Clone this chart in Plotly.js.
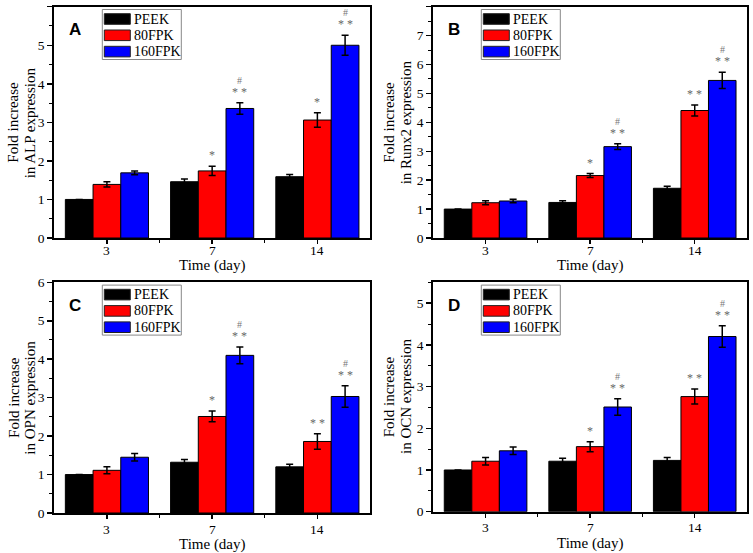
<!DOCTYPE html>
<html><head><meta charset="utf-8">
<script src="https://cdn.plot.ly/plotly-3.0.1.min.js"></script>
<style>html,body{margin:0;padding:0;background:#fff;}#chart{width:753px;height:553px;}</style>
</head><body><div id="chart"></div>
<script>
// ---- data ----
const categories = ['3', '7', '14'];
const seriesNames = ['PEEK', '80FPK', '160FPK'];
const seriesColors = ['#000000', '#ff0000', '#0000ff'];
const xTitle = 'Time (day)';

// A: ALP
const alpPEEK = [1.00, 1.46, 1.59];   const alpPEEKErr = [0, 0.07, 0.06];
const alp80 = [1.39, 1.74, 3.06];     const alp80Err = [0.07, 0.12, 0.19];
const alp160 = [1.69, 3.36, 5.00];    const alp160Err = [0.05, 0.15, 0.26];
const alpStars80 = ['', '*', '*'];    const alpStars160 = ['', '* *', '* *'];
const alpHash160 = ['', '#', '#'];

// B: Runx2
const runxPEEK = [1.00, 1.23, 1.72];  const runxPEEKErr = [0, 0.06, 0.07];
const runx80 = [1.22, 2.16, 4.41];    const runx80Err = [0.07, 0.07, 0.19];
const runx160 = [1.28, 3.16, 5.45];   const runx160Err = [0.06, 0.10, 0.28];
const runxStars80 = ['', '*', '* *']; const runxStars160 = ['', '* *', '* *'];
const runxHash160 = ['', '#', '#'];

// C: OPN
const opnPEEK = [1.00, 1.32, 1.20];   const opnPEEKErr = [0, 0.07, 0.07];
const opn80 = [1.11, 2.51, 1.86];     const opn80Err = [0.09, 0.14, 0.20];
const opn160 = [1.45, 4.10, 3.03];    const opn160Err = [0.10, 0.22, 0.28];
const opnStars80 = ['', '*', '* *'];  const opnStars160 = ['', '* *', '* *'];
const opnHash160 = ['', '#', '#'];

// D: OCN
const ocnPEEK = [1.00, 1.21, 1.23];   const ocnPEEKErr = [0, 0.07, 0.07];
const ocn80 = [1.21, 1.56, 2.76];     const ocn80Err = [0.09, 0.12, 0.18];
const ocn160 = [1.46, 2.51, 4.20];    const ocn160Err = [0.09, 0.20, 0.26];
const ocnStars80 = ['', '*', '* *'];  const ocnStars160 = ['', '* *', '* *'];
const ocnHash160 = ['', '#', '#'];

const panels = [
  {label:'A', ytitle:['Fold increase', 'in ALP expression'], yrange:[0,6],
   vals:[alpPEEK, alp80, alp160], errs:[alpPEEKErr, alp80Err, alp160Err],
   stars:[null, alpStars80, alpStars160], hash:[null, null, alpHash160],
   box:{l:54.3, r:370, t:6.7, b:238}, yt:[-41, -24.3], xl:12.5, xt:27},
  {label:'B', ytitle:['Fold increase', 'in Runx2 expression'], yrange:[0,8],
   vals:[runxPEEK, runx80, runx160], errs:[runxPEEKErr, runx80Err, runx160Err],
   stars:[null, runxStars80, runxStars160], hash:[null, null, runxHash160],
   box:{l:433.3, r:747, t:6.7, b:238}, yt:[-44, -27.3], xl:12.5, xt:27},
  {label:'C', ytitle:['Fold increase', 'in OPN expression'], yrange:[0,6],
   vals:[opnPEEK, opn80, opn160], errs:[opnPEEKErr, opn80Err, opn160Err],
   stars:[null, opnStars80, opnStars160], hash:[null, null, opnHash160],
   box:{l:54.3, r:370, t:282.3, b:513}, yt:[-41, -24.3], xl:16, xt:31.5},
  {label:'D', ytitle:['Fold increase', 'in OCN expression'], yrange:[0,5.5],
   vals:[ocnPEEK, ocn80, ocn160], errs:[ocnPEEKErr, ocn80Err, ocn160Err],
   stars:[null, ocnStars80, ocnStars160], hash:[null, null, ocnHash160],
   box:{l:433.3, r:747, t:282.3, b:511.7}, yt:[-44, -27.3], xl:16, xt:31.5}
];

// ---- layout ----
const W = 753, H = 553;
const serif = 'Liberation Serif, Times New Roman, serif';
const BARGAP = 0.21;
const barW = (1 - BARGAP) / seriesNames.length;
const xIdx = categories.map((_, i) => i);

const traces = [];
const layout = {
  width: W, height: H, margin: {l:0, r:0, t:0, b:0},
  paper_bgcolor: '#fff', plot_bgcolor: '#fff',
  barmode: 'group', bargap: BARGAP, bargroupgap: 0,
  showlegend: false, font: {family: serif, color: '#000'},
  annotations: [], shapes: []
};

const px = x => x / W;
const py = y => 1 - y / H;

panels.forEach((p, pi) => {
  const n = pi + 1;
  const xa = 'x' + (n === 1 ? '' : n), ya = 'y' + (n === 1 ? '' : n);
  const xKey = 'xaxis' + (n === 1 ? '' : n), yKey = 'yaxis' + (n === 1 ? '' : n);
  const b = p.box;
  layout[xKey] = {
    domain: [px(b.l), px(b.r)], anchor: ya, range: [-0.5, categories.length - 0.5],
    tickmode: 'array', tickvals: xIdx, ticktext: categories, showticklabels: false,
    ticks: 'outside', ticklen: 4, tickwidth: 1.5, tickcolor: '#000',
    minor: {tickmode: 'array', tickvals: xIdx.slice(1).map(i => i - 0.5), ticks: 'outside', ticklen: 3, tickwidth: 1, tickcolor:'#000'},
    showline: true, linewidth: 2, linecolor: '#000', mirror: true,
    showgrid: false, zeroline: false, fixedrange: true
  };
  layout[yKey] = {
    domain: [py(b.b), py(b.t)], anchor: xa, range: p.yrange, dtick: 1,
    ticks: 'outside', ticklen: 5, tickwidth: 1.5, tickcolor: '#000',
    minor: {dtick: 0.5, ticks: 'outside', ticklen: 3, tickwidth: 1, tickcolor:'#000'},
    showline: true, linewidth: 2, linecolor: '#000', mirror: true,
    showgrid: false, zeroline: false, fixedrange: true,
    tickfont: {family: serif, size: 13.5, color: '#000'}
  };

  // category tick labels, placed on the x axis scale
  categories.forEach((c, i) => {
    layout.annotations.push({xref: xa, yref: 'paper', x: xIdx[i], y: py(b.b + p.xl),
      text: c, showarrow: false, xanchor: 'center', yanchor: 'middle', height: 11, borderpad: 0,
      font: {family: serif, size: 13.5, color: '#000'}});
  });

  // axis titles
  layout.annotations.push({xref: 'paper', yref: 'paper', x: px((b.l + b.r) / 2), y: py(b.b + p.xt),
    text: xTitle, showarrow: false, xanchor: 'center', yanchor: 'middle', borderpad: 0,
    font: {family: serif, size: 15, color: '#000'}});
  p.ytitle.forEach((line, li) => {
    layout.annotations.push({xref: 'paper', yref: 'paper', x: px(b.l + p.yt[li]), y: py((b.t + b.b) / 2),
      text: line, showarrow: false, textangle: -90, xanchor: 'center', yanchor: 'middle',
      font: {family: serif, size: 15, color: '#000'}});
  });

  seriesNames.forEach((name, k) => {
    traces.push({
      type: 'bar', x: xIdx, y: p.vals[k], name: name, xaxis: xa, yaxis: ya,
      marker: {color: seriesColors[k], line: {color: '#000', width: 1}},
      error_y: {type: 'data', array: p.errs[k], visible: true, color: '#000', thickness: 1.5, width: 3.5}
    });
    const off = (k - (seriesNames.length - 1) / 2) * barW;
    if (p.stars[k]) p.stars[k].forEach((s, i) => {
      if (!s) return;
      layout.annotations.push({xref: xa, yref: ya, x: i + off, y: p.vals[k][i] + p.errs[k][i],
        text: s, showarrow: false, yanchor: 'bottom', yshift: 2,
        font: {family: serif, size: 12, color: '#666'}});
    });
    if (p.hash[k]) p.hash[k].forEach((s, i) => {
      if (!s) return;
      layout.annotations.push({xref: xa, yref: ya, x: i + off, y: p.vals[k][i] + p.errs[k][i],
        text: s, showarrow: false, yanchor: 'bottom', yshift: 15,
        font: {family: serif, size: 10, color: '#777'}});
    });
  });

  // panel letter
  layout.annotations.push({xref: 'paper', yref: 'paper', x: px(b.l + 21), y: py(b.t + 23),
    text: '<b>' + p.label + '</b>', showarrow: false, xanchor: 'center', yanchor: 'middle',
    font: {family: 'Liberation Sans, Arial, sans-serif', size: 17, color: '#000'}});

  // legend box
  const L = b.l + 48, T = b.t + 2.8;
  layout.shapes.push({type: 'rect', xref: 'paper', yref: 'paper', x0: px(L), x1: px(L + 79),
    y0: py(T + 50), y1: py(T), line: {color: '#888', width: 1}, fillcolor: 'rgba(0,0,0,0)'});
  seriesNames.forEach((name, k) => {
    const cy = T + 9.5 + 16.3 * k;
    layout.shapes.push({type: 'rect', xref: 'paper', yref: 'paper', x0: px(L + 2), x1: px(L + 28),
      y0: py(cy + 5.3), y1: py(cy - 5.3), line: {color: '#222', width: 1}, fillcolor: seriesColors[k]});
    layout.annotations.push({xref: 'paper', yref: 'paper', x: px(L + 30), y: py(cy),
      text: name, showarrow: false, xanchor: 'left', yanchor: 'middle',
      font: {family: serif, size: 14, color: '#000'}});
  });
});

Plotly.newPlot('chart', traces, layout, {staticPlot: true, displayModeBar: false});
</script></body></html>
